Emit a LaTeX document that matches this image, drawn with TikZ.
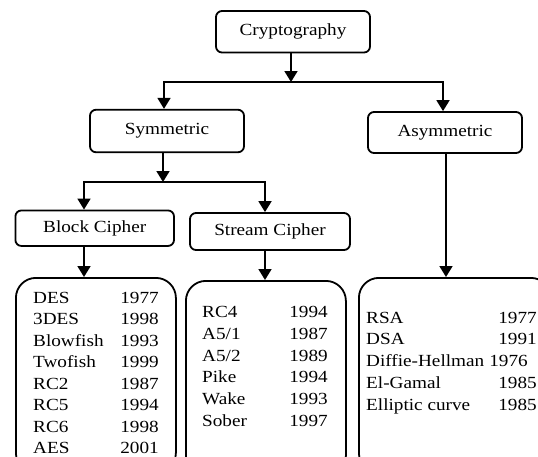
\documentclass[tikz,border=0pt]{standalone}
\usepackage{fontspec}
\setmainfont{Liberation Serif}[FakeStretch=1.13]
\usetikzlibrary{arrows.meta}
\begin{document}
\begin{tikzpicture}[x=1pt,y=-1pt,
  txt/.style={font=\fontsize{17}{20}\selectfont},
  box/.style={draw, line width=1.8pt, rounded corners=6pt, inner sep=0pt, txt},
  listbox/.style={draw, line width=1.8pt, rounded corners=20pt, inner sep=0pt, anchor=north west},
  arr/.style={line width=1.8pt, -{Triangle[length=11pt,width=13pt]}},
  item/.style={inner sep=0pt, txt, anchor=base west},
  year/.style={inner sep=0pt, txt, anchor=base east}]
\useasboundingbox (0,0) rectangle (538,456);
\clip (0,0) rectangle (538,456);
% title boxes
\node[box, minimum width=154pt, minimum height=41.5pt] (crypto) at (293,31.75) {Cryptography};
\node[box, minimum width=154pt, minimum height=42.5pt] (sym) at (167,131) {Symmetric};
\node[box, minimum width=154pt, minimum height=41pt] (asym) at (445,132.5) {Asymmetric};
\node[box, minimum width=158.6pt, minimum height=35.5pt] (block) at (94.7,228.2) {Block Cipher};
\node[box, minimum width=160pt, minimum height=37pt] (stream) at (270,231.5) {Stream Cipher};
% list boxes
\node[listbox, minimum width=160pt, minimum height=195pt] (blist) at (15,277) {};
\node[listbox, minimum width=160pt, minimum height=195pt] (slist) at (185,280) {};
\node[listbox, minimum width=192pt, minimum height=195pt] (alist) at (358,277) {};
% connectors
\coordinate (j1) at (291,82);
\coordinate (j2) at (163,182);
\draw[arr] (crypto.south -| j1) -- (j1);
\draw[arr] (j1) -| ([xshift=-3pt]sym.north);
\draw[arr] (j1) -| ([xshift=-2pt]asym.north);
\draw[arr] (sym.south -| j2) -- (j2);
\draw[arr] (j2) -| ([xshift=-10.7pt]block.north);
\draw[arr] (j2) -| ([xshift=-5pt]stream.north);
\draw[arr] ([xshift=-10.7pt]block.south) -- ([xshift=-10.7pt]block.south |- blist.north);
\draw[arr] ([xshift=-5pt]stream.south) -- ([xshift=-5pt]stream.south |- slist.north);
\draw[arr] ([xshift=1pt]asym.south) -- ([xshift=1pt]asym.south |- alist.north);
% block cipher list
\foreach \n/\y [count=\i from 0] in {DES/1977, 3DES/1998, Blowfish/1993, Twofish/1999, RC2/1987, RC5/1994, RC6/1998, AES/2001}{
  \node[item] (bn\i) at (33,{303.5+21.45*\i}) {\n};
  \node[year] (by\i) at (159,{303.5+21.45*\i}) {\y};
}
% stream cipher list
\foreach \n/\y [count=\i from 0] in {RC4/1994, {A5/1}/1987, {A5/2}/1989, Pike/1994, Wake/1993, Sober/1997}{
  \node[item] (sn\i) at (202,{317.5+21.8*\i}) {\n};
  \node[year] (sy\i) at (328,{317.5+21.8*\i}) {\y};
}
% asymmetric list
\node[item] (an0) at (366,323) {RSA};
\node[year] (ay0) at (537,323) {1977};
\node[item] (an1) at (366,344.75) {DSA};
\node[year] (ay1) at (537,344.75) {1991};
\node[item] (an2) at (366,366.5) {Diffie-Hellman};
\node[year] (ay2) at (528,366.5) {1976};
\node[item] (an3) at (366,388.25) {El-Gamal};
\node[year] (ay3) at (537,388.25) {1985};
\node[item] (an4) at (366,410) {Elliptic curve};
\node[year] (ay4) at (537,410) {1985};
\end{tikzpicture}
\end{document}
